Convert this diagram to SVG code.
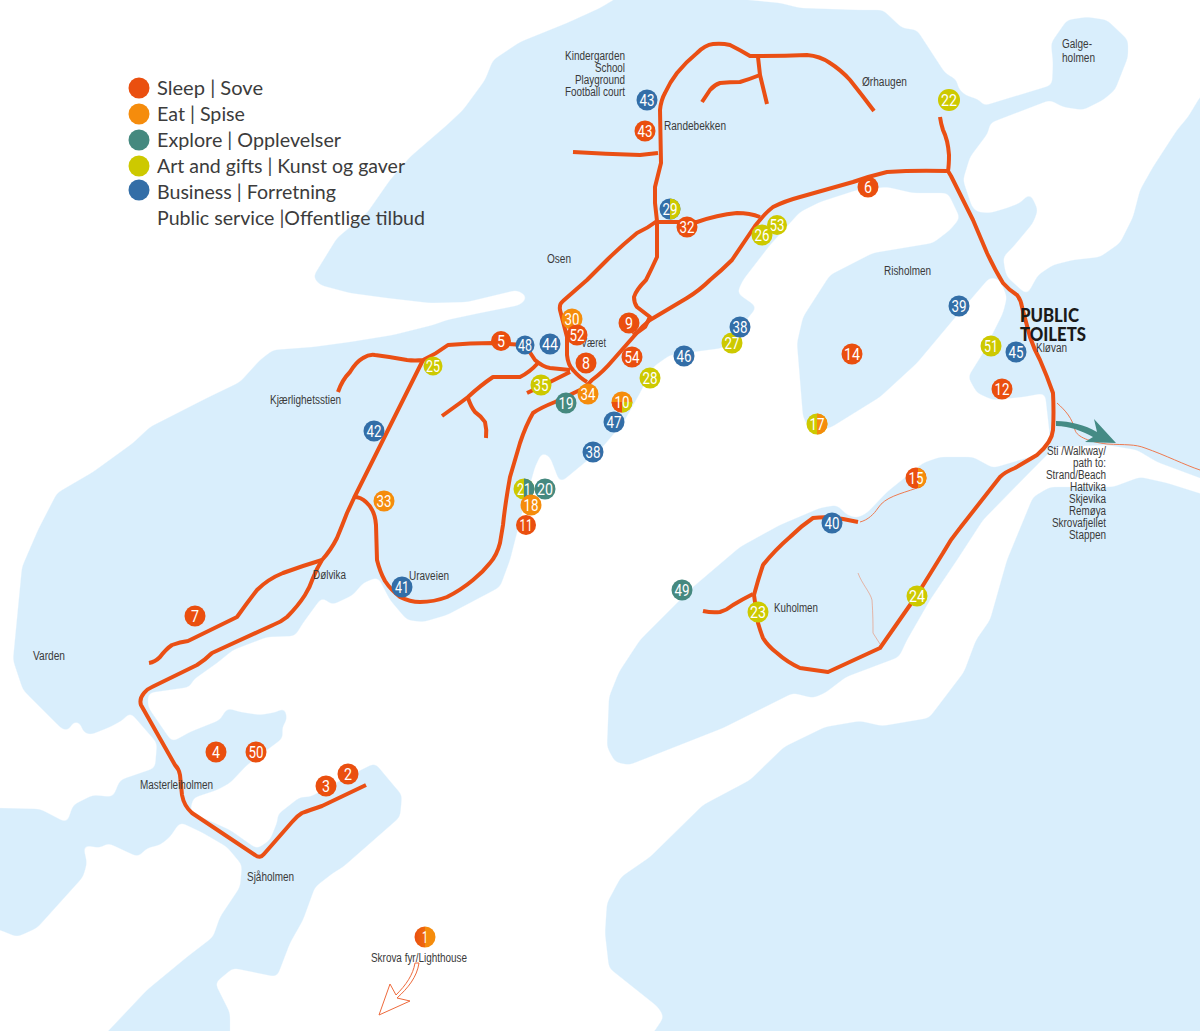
<svg xmlns="http://www.w3.org/2000/svg" width="1200" height="1031" viewBox="0 0 1200 1031">
<defs>
<style>
.road{fill:none;stroke:#ea4f14;stroke-width:4;stroke-linejoin:round;stroke-linecap:butt}
.thin{fill:none;stroke:#ee7a50;stroke-width:1}
.lb{font-family:"Liberation Sans",Arial,sans-serif;font-size:12px;fill:#3a3a3a}
.r{text-anchor:end}
.lg{font-family:Lato,"Open Sans",sans-serif;font-size:19.5px;fill:#3c3c3c}
.pt{font-family:Lato,"Noto Sans",sans-serif;font-size:18px;font-weight:900;fill:#1a1a1a}
.n{font-family:Roboto,"Liberation Sans",sans-serif;font-size:17px;fill:#fff;text-anchor:middle}
.s{fill:#ea4f0f}.e{fill:#f58c0c}.x{fill:#45897f}.a{fill:#cdc900}.b{fill:#336ea7}
</style>
<filter id="smooth" x="0" y="0" width="1200" height="1031" filterUnits="userSpaceOnUse" color-interpolation-filters="sRGB">
<feGaussianBlur in="SourceAlpha" stdDeviation="3"/>
<feComponentTransfer result="m"><feFuncA type="linear" slope="7" intercept="-3"/></feComponentTransfer>
<feFlood flood-color="#d9eefc"/>
<feComposite in2="m" operator="in"/>
</filter>
<linearGradient id="g1"><stop offset="0" stop-color="#ea4f0f"/><stop offset="0.5" stop-color="#ee6a0f"/><stop offset="0.52" stop-color="#f58c0c"/></linearGradient>
</defs>
<rect width="1200" height="1031" fill="#fff"/>
<g id="land" filter="url(#smooth)" fill="#d9eefc">
<path d="M640 -10L780 3L800 8L858 10L883 10L902 28L917 30L945 73L957 80L958 88L965 95L980 100L983 106L1052 85L1053 63L1051 43L1067 20L1087 17L1107 20L1128 40L1128 57L1115 90L1103 100L1083 110L1063 107L1050 100L990 123L988 133L970 157L963 180L972 207L977 212L990 213L1007 208L1020 203L1030 193L1038 210L1033 223L1013 247L1003 257L1005 270L1007 277L1027 295L1038 275L1053 265L1073 260L1100 257L1120 243L1133 217L1140 190L1153 167L1177 130L1188 117L1200 97L1210 87L1210 482L1200 478L1157 462L1137 450L1107 445L1055 447L1030 472L983 520L957 560L930 600L907 640L899 657L846 677L825 693L813 698L793 693L723 728L629 765L615 762L607 747L609 697L619 672L640 640L693 587L740 547L780 525L820 508L837 505L847 515L857 518L867 513L887 492L923 463L940 457L973 457L993 468L1037 455L1050 437L1045 393L1023 397L993 400L977 393L968 377L983 353L1003 313L1007 297L1000 280L990 277L953 320L917 363L880 397L830 428L810 430L803 417L797 343L803 317L830 275L873 253L933 243L950 230L960 218L948 193L913 193L887 187L857 190L820 202L800 212L770 245L743 280L737 293L757 307L723 348L670 355L653 367L640 393L623 423L600 450L560 483L550 457L542 452L535 467L522 513L510 560L500 587L447 615L423 622L407 620L390 600L378 577L363 583L353 595L332 605L322 597L303 623L295 636L267 637L233 650L217 663L193 680L190 687L148 693L148 707L172 742L190 732L220 720L227 708L240 712L260 715L277 712L285 707L287 720L282 727L283 738L247 765L230 783L217 790L193 798L190 812L230 830L257 849L270 840L278 820L277 815L300 797L310 797L345 778L375 763L395 787L402 795L400 817L343 867L333 873L315 887L303 920L290 943L277 977L233 968L215 983L230 1013L230 1045L95 1045L147 990L187 957L213 937L220 917L240 887L242 865L227 847L203 833L180 822L170 837L160 845L147 848L138 857L108 843L100 848L83 845L87 863L83 877L37 928L17 937L0 930L-10 928L-10 808L0 808L40 809L67 823L73 805L93 795L113 797L120 780L155 768L157 743L130 712L123 720L110 727L90 735L83 732L80 722L72 722L70 730L63 730L23 690L13 660L22 567L38 530L57 493L93 472L133 443L150 427L207 398L240 382L260 360L273 350L313 347L350 342L393 335L433 325L447 320L480 313L520 305L528 297L517 290L467 302L430 303L387 298L350 293L320 285L313 277L337 238L367 213L390 180L410 157L447 125L463 110L485 80L493 60L520 42L567 23L600 8L630 -10Z"/>
<path d="M1215 498L1167 483L1140 477L1113 487L1050 487L1033 497L1007 560L990 620L976 640L964 672L929 718L882 726L860 721L825 727L784 747L750 780L703 805L650 857L621 877L607 903L605 933L609 968L658 1007L664 1017L645 1045L1215 1045Z"/>
</g>
<g id="connectors">
<path class="road" d="M366 785L322 806Q310 810 302 813Q297 816 292 822L264 854Q260 859 255 855L192 813Q184 806 182 795L180 775Q179 769 175 765L141 705Q139 699 144 693Q147 689 152 687L197 665Q205 660 212 653L273 625Q281 622 287 617Q298 606 305 595Q310 587 313 578Q317 568 322 560Q331 550 337 538Q342 526 347 513L354 498L423 360"/>
<path class="road" d="M149 663Q155 662 160 657Q166 649 172 645Q180 642 188 641L237 617Q247 603 257 590Q268 579 283 573Q302 566 322 560"/>
<path class="road" d="M354 497Q361 497 366 502Q375 510 376 525L377 560Q380 572 385 581Q391 590 400 597Q410 602 420 602Q434 602 447 597Q461 590 473 580Q483 572 490 563Q497 555 500 543L503 525Q505 505 510 477L520 443Q526 425 533 413Q540 408 555 402L580 390Q586 387 592 380Q603 372 613 360L635 335Q642 326 650 320L687 298Q700 290 710 280Q722 270 732 260L755 226Q765 213 773 207Q785 201 800 197L853 182Q870 176 887 172Q915 170 947 171"/>
<path class="road" d="M338 392Q342 380 350 372Q356 362 363 358Q369 354 375 355Q391 357 407 360Q415 361 423 360Q436 354 448 345Q470 343 493 343L525 345L535 360Q543 367 550 368L570 370"/>
<path class="road" d="M570 372L548 383L527 393"/>
<path class="road" d="M538 363Q530 372 520 377Q507 377 493 377Q481 385 468 397L460 403L442 416"/>
<path class="road" d="M468 398Q471 407 475 412Q481 416 485 422Q487 430 486 438"/>
<path class="road" d="M587 382Q580 378 573 370Q568 365 567 355L567 337L560 310Q559 304 563 301L587 280L607 260Q620 247 637 233Q648 228 657 221"/>
<path class="road" d="M657 221L655 203L655 187Q658 175 661 163L660 110Q661 100 665 93Q670 82 677 73Q686 62 697 53Q705 45 713 44Q722 43 730 45Q740 50 750 56Q780 56 807 55Q820 56 830 63Q841 70 850 80Q862 95 874 111"/>
<path class="road" d="M758 57L760 75L767 104"/>
<path class="road" d="M760 75Q750 79 740 82Q730 82 720 83Q714 85 710 90Q706 96 702 102"/>
<path class="road" d="M573 152Q605 154 640 155L658 153"/>
<path class="road" d="M657 222L697 222Q717 215 737 213Q750 213 760 217"/>
<path class="road" d="M657 221L657 257Q652 268 646 280Q636 290 634 297Q634 303 637 307L650 317Q647 323 645 327Q640 331 633 335"/>
<path class="road" d="M940 117Q941 124 943 130Q948 140 949 155Q949 165 948 171L951 176L973 220L987 253Q995 270 1003 283Q1009 290 1017 295Q1021 300 1022 307L1030 337Q1034 349 1040 360Q1047 376 1053 393Q1054 412 1053 430Q1052 442 1037 455L1015 468Q1005 472 1000 477L960 528Q950 540 943 553L917 595L880 648L828 672L800 668Q787 662 777 653Q768 646 763 638Q760 630 758 623L754 595Q758 580 763 565Q775 550 790 537Q801 526 813 518Q828 516 843 519L858 522"/>
<path class="road" d="M703 611Q712 613 720 612Q727 610 733 605Q743 599 753 594"/>
<path class="thin" d="M860 522C868 520 874 514 878 508C885 497 900 494 917 488"/>
<path class="thin" stroke-opacity=".5" d="M858 573C862 584 870 592 872 600C873 615 873 625 873 633L880 644"/>
<path class="thin" d="M1057 403C1066 411 1072 418 1075 430C1077 437 1090 442 1107 444C1125 445 1135 444 1145 448C1165 455 1185 465 1200 470"/>
<path id="walk-arrow" fill="#458b85" d="M1056 421C1070 421 1085 425 1097 432L1094 419L1116 443L1085 442L1093 437C1082 431 1070 426 1056 426Z"/>
<path id="light-arrow" fill="#fff" stroke="#ee6a3c" stroke-width="1" d="M419 963C417 977 408 988 397 998L410 1001L379 1015L390 984L396 995C406 985 413 975 415 963Z"/>
</g>
<g id="labels">
<text class="lb r" x="625" y="60" textLength="60" lengthAdjust="spacingAndGlyphs">Kindergarden</text>
<text class="lb r" x="625" y="72" textLength="30" lengthAdjust="spacingAndGlyphs">School</text>
<text class="lb r" x="625" y="84" textLength="50" lengthAdjust="spacingAndGlyphs">Playground</text>
<text class="lb r" x="625" y="96" textLength="60" lengthAdjust="spacingAndGlyphs">Football court</text>
<text class="lb" x="664" y="130" textLength="62" lengthAdjust="spacingAndGlyphs">Randebekken</text>
<text class="lb" x="862" y="86" textLength="45" lengthAdjust="spacingAndGlyphs">Ørhaugen</text>
<text class="lb" x="1062" y="48" textLength="30" lengthAdjust="spacingAndGlyphs">Galge-</text>
<text class="lb" x="1062" y="62" textLength="33" lengthAdjust="spacingAndGlyphs">holmen</text>
<text class="lb" x="547" y="263" textLength="24" lengthAdjust="spacingAndGlyphs">Osen</text>
<text class="lb" x="884" y="275" textLength="47" lengthAdjust="spacingAndGlyphs">Risholmen</text>
<text class="lb" x="581" y="347" textLength="25" lengthAdjust="spacingAndGlyphs">Været</text>
<text class="lb" x="1036" y="352" textLength="31" lengthAdjust="spacingAndGlyphs">Kløvan</text>
<text class="lb" x="270" y="404" textLength="71" lengthAdjust="spacingAndGlyphs">Kjærlighetsstien</text>
<text class="lb" x="313" y="579" textLength="33" lengthAdjust="spacingAndGlyphs">Dølvika</text>
<text class="lb" x="409" y="580" textLength="40" lengthAdjust="spacingAndGlyphs">Uraveien</text>
<text class="lb" x="33" y="660" textLength="32" lengthAdjust="spacingAndGlyphs">Varden</text>
<text class="lb" x="774" y="612" textLength="44" lengthAdjust="spacingAndGlyphs">Kuholmen</text>
<text class="lb" x="140" y="789" textLength="73" lengthAdjust="spacingAndGlyphs">Masterleiholmen</text>
<text class="lb" x="247" y="881" textLength="47" lengthAdjust="spacingAndGlyphs">Sjåholmen</text>
<text class="lb" x="371" y="962" textLength="96" lengthAdjust="spacingAndGlyphs">Skrova fyr/Lighthouse</text>
<text class="lb r" x="1106" y="455" textLength="59" lengthAdjust="spacingAndGlyphs">Sti /Walkway/</text>
<text class="lb r" x="1106" y="467" textLength="33" lengthAdjust="spacingAndGlyphs">path to:</text>
<text class="lb r" x="1106" y="479" textLength="60" lengthAdjust="spacingAndGlyphs">Strand/Beach</text>
<text class="lb r" x="1106" y="491" textLength="36" lengthAdjust="spacingAndGlyphs">Hattvika</text>
<text class="lb r" x="1106" y="503" textLength="37" lengthAdjust="spacingAndGlyphs">Skjevika</text>
<text class="lb r" x="1106" y="515" textLength="37" lengthAdjust="spacingAndGlyphs">Remøya</text>
<text class="lb r" x="1106" y="527" textLength="54" lengthAdjust="spacingAndGlyphs">Skrovafjellet</text>
<text class="lb r" x="1106" y="539" textLength="37" lengthAdjust="spacingAndGlyphs">Stappen</text>
<text class="pt" x="1020" y="322" textLength="59" lengthAdjust="spacingAndGlyphs">PUBLIC</text>
<text class="pt" x="1020" y="341" textLength="66" lengthAdjust="spacingAndGlyphs">TOILETS</text>
</g>
<g id="legend">
<circle class="s" cx="139" cy="88" r="10.5"/><text class="lg" x="157" y="95" textLength="106" lengthAdjust="spacingAndGlyphs">Sleep | Sove</text>
<circle class="e" cx="139" cy="114" r="10.5"/><text class="lg" x="157" y="121" textLength="88" lengthAdjust="spacingAndGlyphs">Eat | Spise</text>
<circle class="x" cx="139" cy="140" r="10.5"/><text class="lg" x="157" y="147" textLength="184" lengthAdjust="spacingAndGlyphs">Explore | Opplevelser</text>
<circle class="a" cx="139" cy="166" r="10.5"/><text class="lg" x="157" y="173" textLength="248" lengthAdjust="spacingAndGlyphs">Art and gifts | Kunst og gaver</text>
<circle class="b" cx="139" cy="190" r="10.5"/><text class="lg" x="157" y="199" textLength="179" lengthAdjust="spacingAndGlyphs">Business | Forretning</text>
<text class="lg" x="157" y="225" textLength="268" lengthAdjust="spacingAndGlyphs">Public service |Offentlige tilbud</text>
</g>
<g id="nodes">
<g id="n1"><circle fill="url(#g1)" cx="425" cy="937" r="10.5"/><text class="n" x="425" y="943" textLength="6" lengthAdjust="spacingAndGlyphs">1</text></g>
<g id="n2"><circle class="s" cx="348" cy="774" r="10.5"/><text class="n" x="348" y="780" textLength="8" lengthAdjust="spacingAndGlyphs">2</text></g>
<g id="n3"><circle class="s" cx="326" cy="786" r="10.5"/><text class="n" x="326" y="792" textLength="8" lengthAdjust="spacingAndGlyphs">3</text></g>
<g id="n4"><circle class="s" cx="216" cy="752" r="10.5"/><text class="n" x="216" y="758" textLength="8" lengthAdjust="spacingAndGlyphs">4</text></g>
<g id="n5"><circle class="s" cx="501" cy="341" r="10"/><text class="n" x="501" y="347" textLength="8" lengthAdjust="spacingAndGlyphs">5</text></g>
<g id="n6"><circle class="s" cx="868" cy="187" r="10.5"/><text class="n" x="868" y="193" textLength="8" lengthAdjust="spacingAndGlyphs">6</text></g>
<g id="n7"><circle class="s" cx="195" cy="616" r="10.5"/><text class="n" x="195" y="622" textLength="8" lengthAdjust="spacingAndGlyphs">7</text></g>
<g id="n11"><circle class="s" cx="526" cy="525" r="10"/><text class="n" x="526" y="531" textLength="13" lengthAdjust="spacingAndGlyphs">11</text></g>
<g id="n12"><circle class="s" cx="1002" cy="389" r="10.5"/><text class="n" x="1002" y="395" textLength="15" lengthAdjust="spacingAndGlyphs">12</text></g>
<g id="n14"><circle class="s" cx="852" cy="354" r="10.5"/><text class="n" x="852" y="360" textLength="16" lengthAdjust="spacingAndGlyphs">14</text></g>
<g id="n15"><circle class="s" cx="916" cy="478" r="10.5"/><path class="e" d="M918 467.7A10.5 10.5 0 0 1 918 488.3Z"/><text class="n" x="916" y="484" textLength="15" lengthAdjust="spacingAndGlyphs">15</text></g>
<g id="n17"><circle class="a" cx="817" cy="424" r="10.5"/><path class="e" d="M817 413.5A10.5 10.5 0 0 1 817 434.5Z"/><text class="n" x="817" y="430" textLength="15" lengthAdjust="spacingAndGlyphs">17</text></g>
<g id="n22"><circle class="a" cx="949" cy="100" r="11"/><text class="n" x="949" y="106" textLength="16" lengthAdjust="spacingAndGlyphs">22</text></g>
<g id="n21"><circle class="a" cx="524" cy="489" r="10.5"/><path class="x" d="M524 478.5A10.5 10.5 0 0 1 524 499.5Z"/><text class="n" x="524" y="495" textLength="14" lengthAdjust="spacingAndGlyphs">21</text></g>
<g id="n20"><circle class="x" cx="545" cy="489" r="10.5"/><text class="n" x="545" y="495" textLength="16" lengthAdjust="spacingAndGlyphs">20</text></g>
<g id="n18"><circle class="e" cx="531" cy="505" r="10.5"/><text class="n" x="531" y="511" textLength="15" lengthAdjust="spacingAndGlyphs">18</text></g>
<g id="n19"><circle class="x" cx="566" cy="403" r="10.5"/><text class="n" x="566" y="409" textLength="15" lengthAdjust="spacingAndGlyphs">19</text></g>
<g id="n23"><circle class="a" cx="758" cy="612" r="10.5"/><text class="n" x="758" y="618" textLength="16" lengthAdjust="spacingAndGlyphs">23</text></g>
<g id="n24"><circle class="a" cx="917" cy="596" r="10.5"/><text class="n" x="917" y="602" textLength="16" lengthAdjust="spacingAndGlyphs">24</text></g>
<g id="n25"><circle class="a" cx="433" cy="366" r="9.5"/><text class="n" x="433" y="372" textLength="14" lengthAdjust="spacingAndGlyphs">25</text></g>
<g id="n53"><circle class="a" cx="777" cy="225" r="10"/><text class="n" x="777" y="231" textLength="15" lengthAdjust="spacingAndGlyphs">53</text></g>
<g id="n26"><circle class="a" cx="762" cy="235" r="10.5"/><text class="n" x="762" y="241" textLength="15" lengthAdjust="spacingAndGlyphs">26</text></g>
<g id="n27"><circle class="a" cx="732" cy="343" r="10.5"/><text class="n" x="732" y="349" textLength="15" lengthAdjust="spacingAndGlyphs">27</text></g>
<g id="n38b"><circle class="b" cx="740" cy="327" r="10.5"/><text class="n" x="740" y="333" textLength="15" lengthAdjust="spacingAndGlyphs">38</text></g>
<g id="n28"><circle class="a" cx="650" cy="378" r="10.5"/><text class="n" x="650" y="384" textLength="15" lengthAdjust="spacingAndGlyphs">28</text></g>
<g id="n29"><circle class="b" cx="670" cy="209" r="10.5"/><path class="a" d="M670 198.500A10.500 10.500 0 0 1 670 219.500Z"/><text class="n" x="670" y="215" textLength="15" lengthAdjust="spacingAndGlyphs">29</text></g>
<g id="n30"><circle class="e" cx="572" cy="319" r="10.5"/><text class="n" x="572" y="325" textLength="15" lengthAdjust="spacingAndGlyphs">30</text></g>
<g id="n52"><circle class="s" cx="577" cy="335" r="10.5"/><text class="n" x="577" y="341" textLength="15" lengthAdjust="spacingAndGlyphs">52</text></g>
<g id="n8"><circle class="s" cx="586" cy="363" r="10.5"/><text class="n" x="586" y="369" textLength="8" lengthAdjust="spacingAndGlyphs">8</text></g>
<g id="n9"><circle class="s" cx="629" cy="323" r="10.5"/><text class="n" x="629" y="329" textLength="8" lengthAdjust="spacingAndGlyphs">9</text></g>
<g id="n10"><circle class="e" cx="622" cy="402" r="10.500"/><path class="s" d="M622 402L611.500 402A10.500 10.500 0 0 0 622 412.500Z"/><path class="a" d="M622 402L632.500 402A10.500 10.500 0 0 1 622 412.500Z"/><text class="n" x="622" y="408" textLength="15" lengthAdjust="spacingAndGlyphs">10</text></g>
<g id="n32"><circle class="s" cx="687" cy="227" r="10.5"/><text class="n" x="687" y="233" textLength="15" lengthAdjust="spacingAndGlyphs">32</text></g>
<g id="n33"><circle class="e" cx="384" cy="501" r="10.5"/><text class="n" x="384" y="507" textLength="15" lengthAdjust="spacingAndGlyphs">33</text></g>
<g id="n34"><circle class="e" cx="588" cy="394" r="10.5"/><text class="n" x="588" y="400" textLength="15" lengthAdjust="spacingAndGlyphs">34</text></g>
<g id="n35"><circle class="a" cx="541" cy="385" r="10.5"/><text class="n" x="541" y="391" textLength="15" lengthAdjust="spacingAndGlyphs">35</text></g>
<g id="n38a"><circle class="b" cx="593" cy="452" r="10.5"/><text class="n" x="593" y="458" textLength="15" lengthAdjust="spacingAndGlyphs">38</text></g>
<g id="n39"><circle class="b" cx="959" cy="306" r="10.5"/><text class="n" x="959" y="312" textLength="15" lengthAdjust="spacingAndGlyphs">39</text></g>
<g id="n40"><circle class="b" cx="832" cy="523" r="10.5"/><text class="n" x="832" y="529" textLength="15" lengthAdjust="spacingAndGlyphs">40</text></g>
<g id="n41"><circle class="b" cx="402" cy="587" r="10.5"/><text class="n" x="402" y="593" textLength="14" lengthAdjust="spacingAndGlyphs">41</text></g>
<g id="n42"><circle class="b" cx="374" cy="431" r="10.5"/><text class="n" x="374" y="437" textLength="15" lengthAdjust="spacingAndGlyphs">42</text></g>
<g id="n43a"><circle class="b" cx="647" cy="100" r="10.5"/><text class="n" x="647" y="106" textLength="15" lengthAdjust="spacingAndGlyphs">43</text></g>
<g id="n43b"><circle class="s" cx="645" cy="131" r="10.5"/><text class="n" x="645" y="137" textLength="15" lengthAdjust="spacingAndGlyphs">43</text></g>
<g id="n44"><circle class="b" cx="550" cy="344" r="10.5"/><text class="n" x="550" y="350" textLength="16" lengthAdjust="spacingAndGlyphs">44</text></g>
<g id="n51"><circle class="a" cx="991" cy="346" r="10.5"/><text class="n" x="991" y="352" textLength="14" lengthAdjust="spacingAndGlyphs">51</text></g>
<g id="n45"><circle class="b" cx="1016" cy="352" r="10.5"/><text class="n" x="1016" y="358" textLength="15" lengthAdjust="spacingAndGlyphs">45</text></g>
<g id="n46"><circle class="b" cx="684" cy="356" r="10.5"/><text class="n" x="684" y="362" textLength="15" lengthAdjust="spacingAndGlyphs">46</text></g>
<g id="n47"><circle class="b" cx="614" cy="422" r="10.5"/><text class="n" x="614" y="428" textLength="15" lengthAdjust="spacingAndGlyphs">47</text></g>
<g id="n48"><circle class="b" cx="525" cy="345" r="9.5"/><text class="n" x="525" y="351" textLength="14" lengthAdjust="spacingAndGlyphs">48</text></g>
<g id="n49"><circle class="x" cx="682" cy="590" r="10.5"/><text class="n" x="682" y="596" textLength="15" lengthAdjust="spacingAndGlyphs">49</text></g>
<g id="n50"><circle class="s" cx="256" cy="752" r="10.5"/><text class="n" x="256" y="758" textLength="15" lengthAdjust="spacingAndGlyphs">50</text></g>
<g id="n54"><circle class="s" cx="632" cy="357" r="10.5"/><text class="n" x="632" y="363" textLength="15" lengthAdjust="spacingAndGlyphs">54</text></g>
</g>
</svg>
